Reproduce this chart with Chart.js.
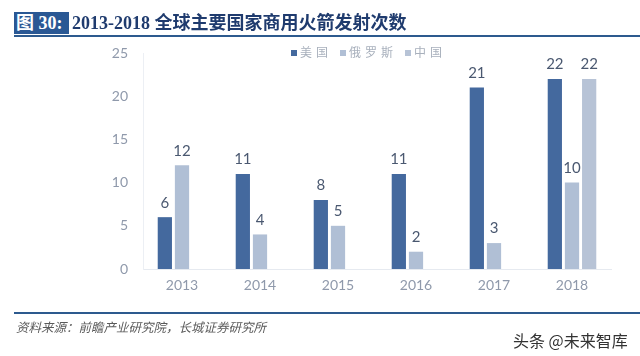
<!DOCTYPE html>
<html><head><meta charset="utf-8">
<script src="https://cdn.jsdelivr.net/npm/chart.js@4/dist/chart.umd.min.js"></script>
<style>
html,body{margin:0;padding:0;background:#fff;}
#wrap{position:relative;width:640px;height:356px;overflow:hidden;background:#fff;}
#c{position:absolute;left:0;top:0;}
.abs{position:absolute;white-space:nowrap;}
#tbox{left:14px;top:12px;width:55px;height:22px;background:#2a5894;color:#fff;font:bold 18px "Liberation Serif","Noto Sans CJK SC";line-height:22px;padding-left:2px;box-sizing:border-box;}
#ttl{left:72px;top:11px;color:#1f3b6e;font:bold 18px "Liberation Serif","Noto Sans CJK SC";line-height:24px;}
#tline{left:14px;top:35px;width:626px;height:2px;background:#2d5a8e;}
#fline{left:14px;top:312px;width:626px;height:2px;background:#2d5a8e;}
#src{left:16px;top:318px;color:#5a5a5a;font:italic 12.5px "Noto Sans CJK SC";line-height:18px;}
#wm{left:513px;top:330px;color:#333;font:16px "Noto Sans CJK SC";line-height:20px;}
#legend{left:291px;top:44px;font:12px "Noto Sans CJK SC";color:#a8b0bc;letter-spacing:4px;line-height:16px;}
#legend span.sq{display:inline-block;width:6px;height:6px;margin-right:3px;vertical-align:1px;}
#legend span.it{margin-right:8px;}
</style></head>
<body><div id="wrap">
<canvas id="c" width="640" height="356"></canvas>
<div class="abs" id="tbox">图 30:</div>
<div class="abs" id="ttl">2013-2018 全球主要国家商用火箭发射次数</div>
<div class="abs" id="tline"></div>
<div class="abs" id="legend"></div>
<div class="abs" id="fline"></div>
<div class="abs" id="src">资料来源：前瞻产业研究院，长城证券研究所</div>
<div class="abs" id="wm">头条 @未来智库</div>
</div>
<script>
const years = ["2013","2014","2015","2016","2017","2018"];
const seriesNames = ["美国","俄罗斯","中国"];
const usa = [6,11,8,11,21,22];
const russia = [12,4,5,2,3,10];
const china = [null,null,null,null,null,22];
const yTicks = [0,5,10,15,20,25];
const colors = ["#44699e","#b0bfd5","#b7c3d6"];

const leg = document.getElementById('legend');
seriesNames.forEach((n,i)=>{
  const s=document.createElement('span');s.className='sq';s.style.background=colors[i];
  const t=document.createElement('span');t.className='it';t.textContent=n;
  leg.appendChild(s);leg.appendChild(t);
});

const labelPlugin = {
  id:'vals',
  afterDatasetsDraw(chart){
    const ctx=chart.ctx;
    ctx.save();
    ctx.font='15px Lato, "Open Sans", sans-serif';
    ctx.fillStyle='#4a5870';
    ctx.textAlign='center';
    ctx.textBaseline='bottom';
    chart.data.datasets.forEach((ds,di)=>{
      const meta=chart.getDatasetMeta(di);
      meta.data.forEach((el,i)=>{
        const v=ds.data[i];
        if(v===null||v===undefined) return;
        ctx.fillText(String(v),el.x,el.y-7);
      });
    });
    ctx.restore();
  }
};

new Chart(document.getElementById('c'),{
  type:'bar',
  data:{labels:years,datasets:[
    {label:seriesNames[0],data:usa,backgroundColor:colors[0]},
    {label:seriesNames[1],data:russia,backgroundColor:colors[1]},
    {label:seriesNames[2],data:china,backgroundColor:colors[2]}
  ]},
  options:{
    responsive:false,animation:false,
    layout:{padding:{top:53,right:29,left:0,bottom:0}},
    datasets:{bar:{categoryPercentage:0.66,barPercentage:0.83}},
    plugins:{legend:{display:false},tooltip:{enabled:false}},
    scales:{
      x:{
        grid:{display:false,drawTicks:false},
        border:{display:true,color:'#e6eaf0',width:1},
        ticks:{color:'#8f99ab',font:{family:'Lato',size:14},padding:8},
        afterFit(s){s.height=87;}
      },
      y:{
        min:0,max:25,
        afterBuildTicks(s){s.ticks=yTicks.map(v=>({value:v}));},
        grid:{display:false,drawTicks:false},
        border:{display:true,color:'#eceff4',width:1},
        ticks:{color:'#8f99ab',font:{family:'Lato',size:14},padding:15},
        afterFit(s){s.width=143;}
      }
    }
  },
  plugins:[labelPlugin]
});
</script>
</body></html>
